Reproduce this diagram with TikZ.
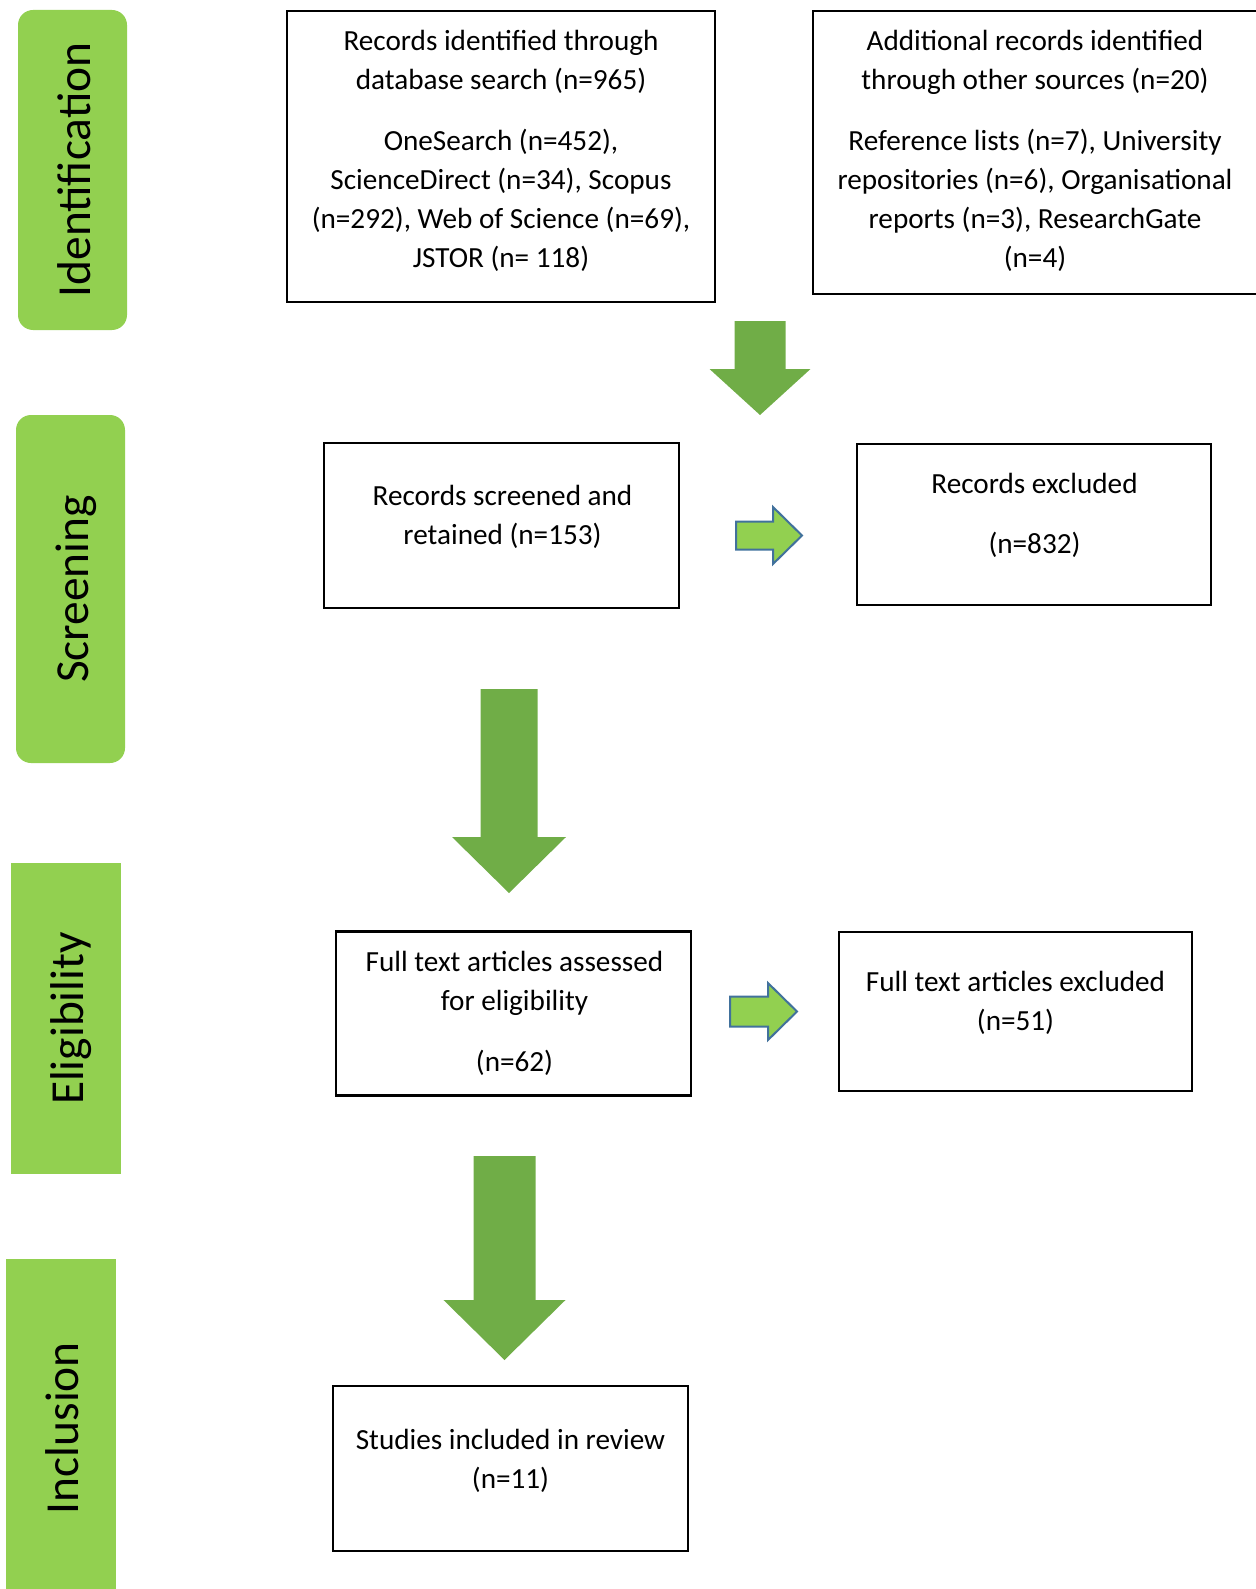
\documentclass[tikz,border=0pt]{standalone}
\usepackage{fontspec}
\setmainfont{Carlito}
\usetikzlibrary{positioning}
\definecolor{bargreen}{HTML}{92D050}
\definecolor{arrowgreen}{HTML}{70AD47}
\definecolor{edgeblue}{HTML}{41719C}
\tikzset{
  box/.style={draw, line width=1.2pt, inner sep=0pt},
  txt/.style={align=center, inner sep=0pt, font=\fontsize{14.6pt}{19.6pt}\selectfont},
  phase/.style={fill=bargreen, rotate=90, inner sep=0pt, text height=17.5pt, text depth=0pt,
    font=\fontsize{23.7pt}{28pt}\selectfont},
  rarrow/.style={fill=bargreen, draw=edgeblue, line width=1pt, line join=miter},
}
\begin{document}
\begin{tikzpicture}[x=0.5pt, y=-0.5pt]
\useasboundingbox (0,0) rectangle (1256,1589);
% phase bars
\node[phase, rounded corners=7.5pt, minimum width=160pt, minimum height=54.5pt] (ident) at (72.5,170) {Identification};
\node[phase, rounded corners=7.5pt, minimum width=174pt, minimum height=54.5pt] (screen) at (70.5,589) {Screening};
\node[phase, minimum width=155.5pt, minimum height=55pt] (elig) at (66,1018.5) {Eligibility};
\node[phase, minimum width=169pt, minimum height=55pt] (incl) at (61,1428) {Inclusion};
% boxes
\node[box, minimum width=214pt, minimum height=145.5pt] (b1) at (501,156.5) {};
\node[box, minimum width=222.5pt, minimum height=141.5pt] (b2) at (1035.5,152.5) {};
\node[box, minimum width=177.5pt, minimum height=82.5pt] (b3) at (501.5,525.5) {};
\node[box, minimum width=177pt, minimum height=80.5pt] (b4) at (1034,524.5) {};
\node[box, minimum width=177.5pt, minimum height=82pt] (b5) at (513.5,1013.5) {};
\node[box, minimum width=176.5pt, minimum height=79.5pt] (b6) at (1015.5,1011.5) {};
\node[box, minimum width=177.5pt, minimum height=82.5pt] (b7) at (510.5,1468.5) {};
% texts
\node[txt] (t1) at (501,151) {Records identified through\\database search (n=965)\\[10.75pt]OneSearch (n=452),\\ScienceDirect (n=34), Scopus\\(n=292), Web of Science (n=69),\\JSTOR (n= 118)};
\node[txt] (t2) at (1035,151) {Additional records identified\\through other sources (n=20)\\[10.75pt]Reference lists (n=7), University\\repositories (n=6), Organisational\\reports (n=3), ResearchGate\\(n=4)};
\node[txt] (t3) at (502.5,517) {Records screened and\\retained (n=153)};
\node[txt] (t4) at (1034.5,515.5) {Records excluded\\[10.75pt](n=832)};
\node[txt] (t5) at (514.5,1013) {Full text articles assessed\\for eligibility\\[10.75pt](n=62)};
\node[txt] (t6) at (1015.5,1003) {Full text articles excluded\\(n=51)};
\node[txt] (t7) at (510.5,1460.5) {Studies included in review\\(n=11)};
% block arrows down
\foreach \cx/\top/\hd/\tip/\sw/\hw in {760/321/369/415/25.5/50.5, 509/689/837/893/28.5/57, 504.5/1156/1300/1360/31/61}
  \fill[arrowgreen] (\cx-\sw,\top) -- (\cx+\sw,\top) -- (\cx+\sw,\hd) -- (\cx+\hw,\hd) -- (\cx,\tip)
    -- (\cx-\hw,\hd) -- (\cx-\sw,\hd) -- cycle;
% block arrows right
\foreach \l/\hx/\tip/\cy/\sw/\hw in {736/773/802/535.5/14/28.5, 730/768/797/1011.5/15/28.5}
  \draw[rarrow] (\l,\cy-\sw) -- (\hx,\cy-\sw) -- (\hx,\cy-\hw) -- (\tip,\cy) -- (\hx,\cy+\hw)
    -- (\hx,\cy+\sw) -- (\l,\cy+\sw) -- cycle;
\end{tikzpicture}
\end{document}
